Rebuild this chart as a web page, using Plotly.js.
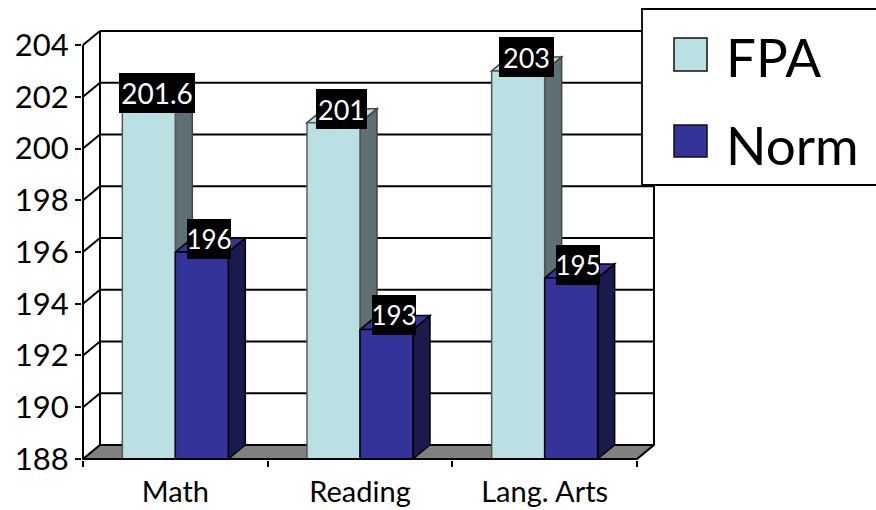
<!DOCTYPE html>
<html><head><meta charset="utf-8">
<script src="https://cdn.plot.ly/plotly-3.0.1.min.js"></script>
<style>html,body{margin:0;padding:0;background:#fff;overflow:hidden}</style>
</head><body><div id="chart" style="width:876px;height:510px"></div>
<script>
const categories = ["Math", "Reading", "Lang. Arts"];
const fpaValues = [201.6, 201, 203];
const normValues = [196, 193, 195];
const yTicks = [188, 190, 192, 194, 196, 198, 200, 202, 204];
const seriesNames = ["FPA", "Norm"];

const FONT = "Lato, sans-serif";
const pos = categories.map((_, i) => i);
const BW = 0.287, DX = 0.092, DY = 0.541, Y0 = 188, Y1 = 204;
const XL = -0.5, XR = 2.5;
const INK = "#000";
const poly = (pts, fill, color, layer) => ({
  type: "path", xref: "x", yref: "y", layer: layer || "below",
  path: "M" + pts.map(p => p[0] + "," + p[1]).join("L") + "Z",
  fillcolor: fill, line: {color: color || INK, width: 1.5}
});
const seg = (a, b, layer) => ({
  type: "line", xref: "x", yref: "y", layer: layer || "below",
  x0: a[0], y0: a[1], x1: b[0], y1: b[1], line: {color: INK, width: 2}
});
const shapes = [];
shapes.push(poly([[XL, Y0], [XL + DX, Y0 + DY], [XR + DX, Y0 + DY], [XR, Y0]], "#808080"));
yTicks.forEach(v => {
  shapes.push(seg([XL, v], [XL + DX, v + DY]));
  shapes.push(seg([XL + DX, v + DY], [XR + DX, v + DY]));
});
shapes.push(seg([XL, Y0], [XL, Y1]));
shapes.push(seg([XL + DX, Y0 + DY], [XL + DX, Y1 + DY]));
shapes.push(seg([XR + DX, Y0 + DY], [XR + DX, Y1 + DY]));
const faces = (x0, x1, v, side, top, edge) => {
  shapes.push(poly([[x1, Y0], [x1 + DX, Y0 + DY], [x1 + DX, v + DY], [x1, v]], side, edge));
  shapes.push(poly([[x0, v], [x0 + DX, v + DY], [x1 + DX, v + DY], [x1, v]], top, edge));
};
pos.forEach(i => {
  faces(i - BW, i, fpaValues[i], "#5F7072", "#BBE0E3", "#444");
  faces(i, i + BW, normValues[i], "#1A1A4D", "#333399", INK);
});
shapes.push(seg([XL, Y0], [XR, Y0], "above"));
shapes.push(seg([XR, Y0], [XR + DX, Y0 + DY], "above"));

const PL = 82, PW = 573, PB = 460, PH = 430;
const px = x => (x - PL) / PW, py = y => (PB - y) / PH;
shapes.push({type: "rect", xref: "paper", yref: "paper", layer: "above",
  x0: px(642), x1: px(890), y0: py(185), y1: py(9),
  fillcolor: "#fff", line: {color: INK, width: 1.8}});
[["#BBE0E3", 38, 71], ["#333399", 125, 157]].forEach(s => shapes.push({
  type: "rect", xref: "paper", yref: "paper", layer: "above",
  x0: px(674), x1: px(707), y0: py(s[2]), y1: py(s[1]),
  fillcolor: s[0], line: {color: "#111", width: 1.5}}));

const dataLabel = (x, v, w, size, dx, dy) => ({
  x: x, y: v, xref: "x", yref: "y", text: String(v), showarrow: false,
  xshift: dx, yshift: dy, bgcolor: "#000", borderpad: 0, borderwidth: 0,
  width: w, height: 40, align: "center", valign: "middle",
  font: {family: FONT, size: size, color: "#fff"}
});
const fpaBoxW = [76, 51, 55], normBoxW = [44, 44, 44];
const fpaDy = [14, 14, 14], normDy = [13, 15, 13];
const annotations = [];
pos.forEach(i => {
  annotations.push(dataLabel(i - BW / 2, fpaValues[i], fpaBoxW[i], i === 0 ? 28 : 27, 8, fpaDy[i]));
  annotations.push(dataLabel(i + BW / 2, normValues[i], normBoxW[i], 26, 7, normDy[i]));
});
seriesNames.forEach((n, k) => annotations.push({
  xref: "paper", yref: "paper", x: px(724), y: py(k ? 144 : 57), xanchor: "left", yanchor: "middle",
  text: n, showarrow: false, font: {family: FONT, size: 53, color: INK}
}));

const traces = [
  {type: "bar", name: seriesNames[0], x: pos, y: fpaValues, marker: {color: "#BBE0E3", line: {color: "#555", width: 1.5}}},
  {type: "bar", name: seriesNames[1], x: pos, y: normValues, marker: {color: "#333399", line: {color: INK, width: 1.5}}}
];
const layout = {
  width: 876, height: 510, autosize: false,
  margin: {l: 82, r: 221, t: 30, b: 50, pad: 0},
  paper_bgcolor: "#fff", plot_bgcolor: "rgba(0,0,0,0)",
  showlegend: false, barmode: "group", bargap: 1 - 2 * BW, bargroupgap: 0,
  xaxis: {
    range: [-0.5054, 2.5975], tickmode: "array", tickvals: pos, ticktext: categories,
    ticks: "", showgrid: false, zeroline: false, showline: false,
    tickfont: {family: FONT, size: 29, color: INK}, ticklabelstandoff: 12,
    minor: {tickmode: "array", tickvals: [-0.5, 0.5, 1.5, 2.5], ticks: "outside", ticklen: 6, tickwidth: 2, tickcolor: INK, showgrid: false}
  },
  yaxis: {
    range: [187.961, 204.58], tickmode: "array", tickvals: yTicks,
    ticks: "outside", ticklen: 6, tickwidth: 2, tickcolor: INK,
    showgrid: false, zeroline: false, showline: false,
    tickfont: {family: FONT, size: 31, color: INK}, ticklabelstandoff: 0
  },
  shapes: shapes, annotations: annotations
};
Plotly.newPlot("chart", traces, layout, {displayModeBar: false, staticPlot: true});
</script></body></html>
